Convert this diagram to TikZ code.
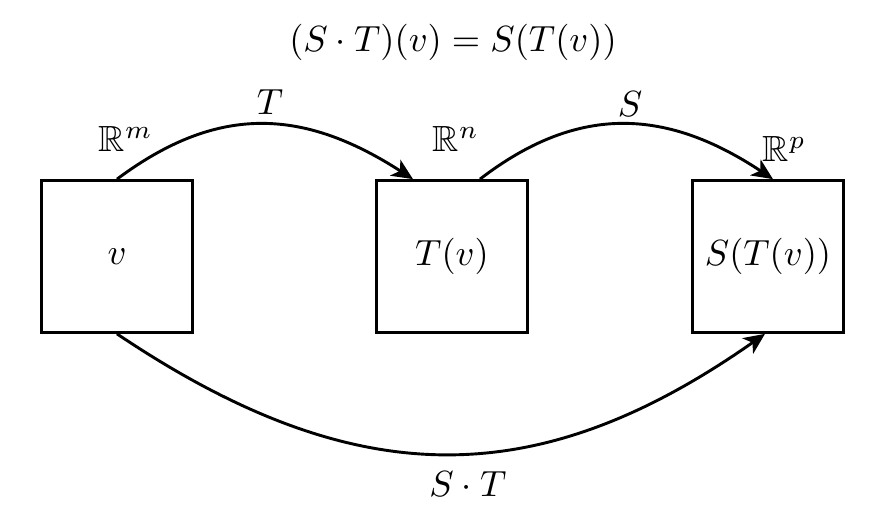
\documentclass[tikz,border=0pt]{standalone}
\usepackage{amssymb}
\usetikzlibrary{arrows.meta,calc}
\begin{document}
\begin{tikzpicture}[x=0.2747pt,y=-0.2747pt,
  box/.style={draw,line width=0.8pt,minimum size=41.7pt,inner sep=0pt},
  lbl/.style={inner sep=0pt},
  arr/.style={line width=0.8pt,-{Stealth[length=5.8pt,width=5.2pt,inset=1.6pt]}}]
\useasboundingbox (0,0) rectangle (875,515);
\node[box] (a) at (117,256.5) {$v$};
\node[box] (b) at (452,256.5) {$T(v)$};
\node[box] (c) at (768,256.5) {$S(T(v))$};
\node[lbl,anchor=base] (title) at (453,52) {$(S\cdot T)(v) = S(T(v))$};
\node[lbl,anchor=base west] (rm) at (98,152) {$\mathbb{R}^m$};
\node[lbl,anchor=base west] (rn) at (432,152) {$\mathbb{R}^n$};
\node[lbl,anchor=base west] (rp) at (762,162) {$\mathbb{R}^p$};
\node[lbl,anchor=base] (lt) at (270,115) {$T$};
\node[lbl,anchor=base] (ls) at (630,117) {$S$};
\node[lbl,anchor=base] (lst) at (468,497) {$S\cdot T$};
\draw[arr] (a.north) .. controls ($(a.north)+(98,-73)$) and ($(b.north)+(-152,-73)$) .. ($(b.north)+(-39,0)$);
\draw[arr] ($(b.north)+(28,0)$) .. controls ($(b.north)+(123,-73)$) and ($(c.north)+(-105,-73)$) .. ($(c.north)+(5,0)$);
\draw[arr] (a.south) .. controls ($(a.south)+(238,160)$) and ($(c.south)+(-231,160)$) .. ($(c.south)+(-3,0)$);
\end{tikzpicture}
\end{document}
